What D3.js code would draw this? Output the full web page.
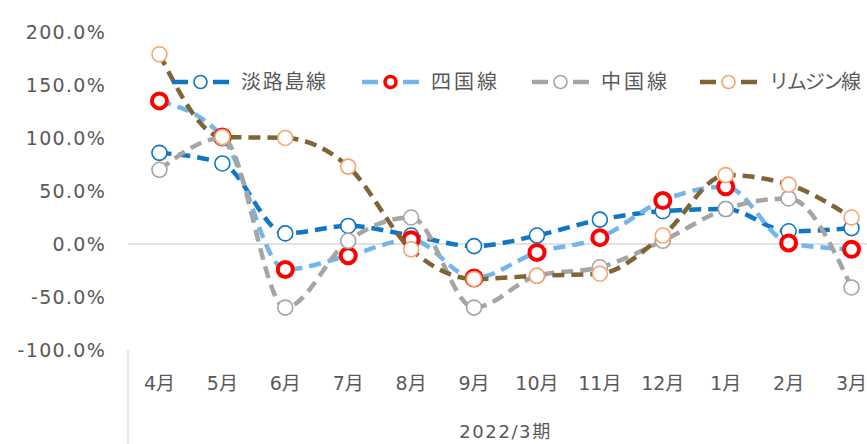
<!DOCTYPE html>
<html><head><meta charset="utf-8">
<script src="https://cdn.jsdelivr.net/npm/d3@7"></script>
<style>
html,body{margin:0;padding:0;background:#fff;overflow:hidden}
text{font-family:"DejaVu Sans","Noto Sans CJK JP",sans-serif;fill:#595959}
text.cjk{font-family:"Noto Sans CJK JP","Noto Sans",sans-serif}
</style></head>
<body><svg id="c" width="867" height="444"></svg>
<script>
const months = ["4月","5月","6月","7月","8月","9月","10月","11月","12月","1月","2月","3月"];
const groupLabel = "2022/3期";
const yTicks = [-100,-50,0,50,100,150,200];
const seriesNames = ["淡路島線","四国線","中国線","リムジン線"];
const awaji   = [86, 76, 10, 17, 8, -2, 8, 23, 31, 33, 12, 15];
const shikoku = [135, 101, -24, -11, 4, -32, -8, 6, 41, 54, 1, -5];
const chugoku = [70, 100, -60, 3, 25, -60, -30, -22, 3, 33, 43, -41];
const limousine = [179, 101, 100, 73, -5, -33, -30, -28, 8, 65, 56, 25];

const styles = [
  {line:"#0F77C4", lw:4.5, mStroke:"#0F77C4", mw:1.6, r:7.5},
  {line:"#74B6EC", lw:4.5, mStroke:"#FF0000", mw:4, r:7.5},
  {line:"#A5A5A5", lw:4.5, mStroke:"#A5A5A5", mw:1.6, r:7.5},
  {line:"#7F6535", lw:4.5, mStroke:"#F4A56E", mw:1.6, r:7.5}
];
const data = [awaji, shikoku, chugoku, limousine];

const svg = d3.select("#c");
const x = d3.scaleBand().domain(months).range([128, 883]);
const y = d3.scaleLinear().domain([-100, 200]).range([350, 32]);

// y tick labels
svg.append("g").selectAll("text").data(yTicks).join("text")
  .attr("x", 106).attr("y", d => y(d)).attr("dy", "0.36em")
  .attr("text-anchor", "end").attr("font-size", 19).attr("letter-spacing", 1.3)
  .text(d => d.toFixed(1) + "%");

// zero line
svg.append("line").attr("x1", 128).attr("x2", 883)
  .attr("y1", y(0)).attr("y2", y(0))
  .attr("stroke", "#D9D9D9").attr("stroke-width", 1.3);
// group separator
svg.append("line").attr("x1", 128).attr("x2", 128)
  .attr("y1", 350).attr("y2", 444)
  .attr("stroke", "#D9D9D9").attr("stroke-width", 1.3);

// x labels
svg.append("g").selectAll("text").data(months).join("text")
  .attr("x", d => x(d) + x.bandwidth()/2).attr("y", 383).attr("dy", "0.36em")
  .attr("text-anchor", "middle").attr("font-size", 19)
  .text(d => d);
svg.append("text").attr("x", (128+883)/2).attr("y", 432).attr("dy", "0.36em")
  .attr("text-anchor", "middle").attr("font-size", 18).attr("letter-spacing", 1.6)
  .text(groupLabel);

const line = d3.line()
  .x((d,i) => x(months[i]) + x.bandwidth()/2)
  .y(d => y(d))
  .curve(d3.curveMonotoneX);

data.forEach((vals, si) => {
  const s = styles[si];
  const g = svg.append("g");
  g.append("path").attr("d", line(vals)).attr("fill", "none")
    .attr("stroke", s.line).attr("stroke-width", s.lw)
    .attr("stroke-dasharray", "12,7");
  g.selectAll("circle").data(vals).join("circle")
    .attr("cx", (d,i) => x(months[i]) + x.bandwidth()/2)
    .attr("cy", d => y(d)).attr("r", s.r)
    .attr("fill", "#fff").attr("stroke", s.mStroke).attr("stroke-width", s.mw);
});

// legend
const legX = [172, 362, 532, 700];
const legW = [85, 66, 66, 92];
const legY = 82;
seriesNames.forEach((name, i) => {
  const s = styles[i];
  const g = svg.append("g");
  const x0 = legX[i];
  g.append("line").attr("x1", x0).attr("x2", x0+16).attr("y1", legY).attr("y2", legY)
    .attr("stroke", s.line).attr("stroke-width", s.lw);
  g.append("line").attr("x1", x0+41).attr("x2", x0+57).attr("y1", legY).attr("y2", legY)
    .attr("stroke", s.line).attr("stroke-width", s.lw);
  g.append("circle").attr("cx", x0+28.5).attr("cy", legY).attr("r", i===1 ? 5.5 : 6.5)
    .attr("fill", "#fff").attr("stroke", s.mStroke).attr("stroke-width", i===1 ? 3.5 : 1.6);
  g.append("text").attr("class", "cjk").attr("x", x0+69).attr("y", legY).attr("dy", "0.36em")
    .attr("font-size", 20).attr("textLength", legW[i]).attr("lengthAdjust", "spacing")
    .text(name);
});
</script></body></html>
